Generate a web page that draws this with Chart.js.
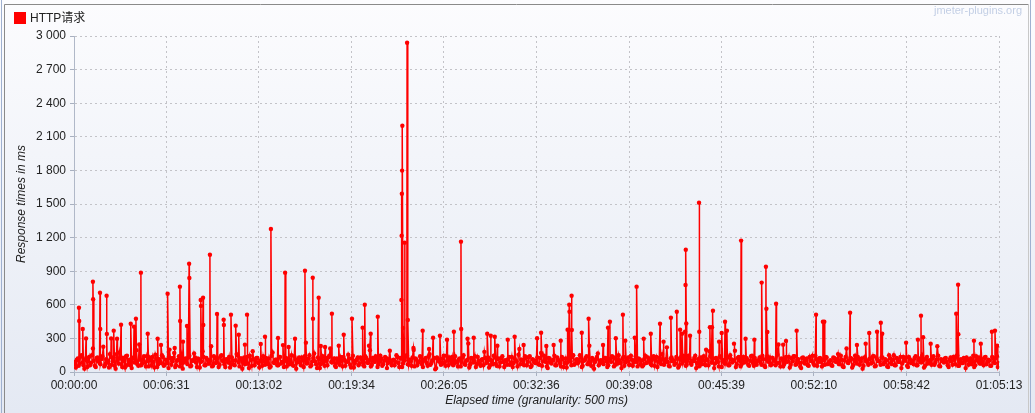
<!DOCTYPE html>
<html>
<head>
<meta charset="utf-8">
<script src="https://cdn.jsdelivr.net/npm/chart.js@4/dist/chart.umd.min.js"></script>
<style>
html,body{margin:0;padding:0;background:#eef1f8;}
#wrap{width:1035px;height:413px;position:relative;}
canvas{display:block;}
</style>
</head>
<body>
<div id="wrap"><canvas id="c" width="1035" height="413"></canvas></div>
<script>
// ---- data ----
const seriesName = 'HTTP请求';
const baseStepSec = 8;   // baseline samples read every 8 s
const baseOffsetSec = 4; // second baseline row sits halfway between
const baseMs = [
 90,40,120,75,150,60,110,45,135,80,210,55,125,95,70,140,50,115,85,160,
 65,130,30,100,175,70,125,40,145,90,60,120,85,195,55,110,75,140,50,100,
 130,60,90,155,45,115,80,135,65,105,35,125,95,170,60,110,50,140,85,120,
 70,145,55,100,130,45,115,90,185,60,125,75,105,50,140,80,120,65,150,95,
 45,110,135,70,100,60,160,85,120,30,130,95,75,145,55,115,90,125,40,105,
 140,65,95,120,50,175,80,110,60,135,90,45,125,100,70,150,55,115,85,130,
 60,105,140,75,120,50,95,165,70,130,35,110,85,125,60,145,90,100,55,120,
 80,135,50,110,95,155,65,120,40,100,130,75,115,60,140,85,105,50,125,90,
 115,70,145,55,100,125,80,190,60,110,90,135,45,120,75,105,150,65,95,130,
 50,115,85,140,70,100,125,55,160,80,110,25,130,95,65,120,85,145,60,105,
 135,75,95,50,120,90,150,65,110,40,125,85,140,70,100,55,115,180,80,130,
 60,100,145,75,115,50,125,90,105,65,135,80,45,120,95,155,70,110,60,125,
 90,140,55,105,80,130,65,170,95,115,50,125,85,100,145,60,110,75,135,45,
 120,85,100,60,150,75,115,95,130,55,105,140,70,90,125,30,110,165,80,100,
 70,125,45,115,90,135,60,105,150,80,120,55,95,130,65,110,85,140,50,115,
 100,60,145,85,110,70,125,55,135,95,80,160,65,115,90,50,130,105,75,120,
 55,135,90,110,65,145,80,100,125,35,115,95,70,140,60,105,185,85,120,75,
 110,50,130,95,75,120,60,150,85,105,45,125,100,70,135,90,115,55,140,80,
 125,65,105,85,145,55,115,95,130,70,100,60,155,80,120,50,110,90,135,65,
 95,140,70,115,50,125,85,105,60,135,100,75,145,55,120,90,110,65,130,80,
 105,55,125,90,160,70,110,45,135,85,100,120,60,145,75,115,95,30,130,100,
 65,120,85,140,55,105,95,130,70,115,50,150,80,110,60,125,90,135,75,105,
 130,45,115,100,70,140,60,120,85,105,55,135,95,75,125,65,110,145,50,100,
 85,125,60,110,95,135,70,150,55,115,80,105,130,65,120,90,45,140,100,75,
 115,60,135,90,105,55,125,80,140,70
];
const baseMs2 = [
 70,110,55,140,85,30,125,95,60,150,100,45,130,80,115,225,65,105,40,135,
 95,55,160,75,120,45,100,140,65,110,35,130,90,70,245,60,115,85,140,50,
 105,135,40,120,70,95,150,55,110,80,200,65,125,45,100,140,75,30,115,90,
 130,50,105,165,85,120,40,95,135,60,110,75,230,55,125,90,45,140,100,70,
 115,85,40,130,65,105,150,50,120,90,70,135,35,110,185,60,125,80,100,55,
 95,125,70,40,145,85,110,60,135,75,240,100,50,120,90,65,140,30,115,85,
 130,45,105,80,150,60,125,95,35,115,70,140,55,100,130,210,85,120,45,110,
 65,100,135,55,90,120,40,145,75,110,60,130,90,50,125,80,195,65,105,140,
 45,90,120,70,135,35,115,85,105,60,150,80,125,45,100,135,70,110,55,215,
 120,60,95,130,45,110,80,140,65,100,125,35,115,90,70,145,55,105,130,80,
 60,140,85,115,50,130,70,100,255,65,120,90,45,135,75,110,60,125,95,40,
 105,70,130,55,120,85,140,45,95,115,65,135,80,100,50,205,110,75,140,60,
 135,45,115,85,100,70,125,55,145,90,35,120,75,110,60,130,95,50,115,80,
 40,120,95,135,65,110,80,150,45,100,125,70,235,55,115,90,135,60,105,85,
 125,95,60,110,140,50,120,75,100,35,135,85,115,65,145,55,105,90,120,70,
 50,115,80,130,95,60,140,105,45,125,70,110,85,220,55,120,95,65,135,40,
 110,75,140,55,100,125,65,95,145,80,50,130,105,70,115,60,140,85,35,125,
 90,140,45,105,80,130,60,115,95,190,70,135,50,110,85,125,65,100,145,55,
 75,100,130,65,115,45,140,90,60,125,105,80,245,50,115,70,135,95,40,120,
 140,65,110,85,35,130,75,120,55,100,145,60,115,90,125,50,105,135,70,95,
 60,130,95,115,70,145,50,105,210,80,125,40,110,90,135,65,120,55,100,85,
 115,75,140,50,120,95,65,130,85,105,45,125,70,150,60,115,90,35,135,100,
 55,135,80,100,125,60,110,90,145,40,120,75,105,65,140,85,230,55,115,95,
 120,90,45,130,65,110,140,55,100,80,125,35,115,95,70,145,60,105,130,75,
 90,130,70,110,55,135,85,120,45,100
];
// spikes: elapsed second and response time (ms)
const peakSec = [21,22,37,51,80,81,110,111,138,139,157,168,182,199,240,254,262,283,312,354,368,396,426,448,449,461,478,487,488,
 536,537,546,547,575,605,633,634,664,684,697,723,732,790,808,833,863,893,908,935,977,981,1010,1011,1035,1044,1062,1091,1120,1141,1176,
 1221,1230,1248,1255,1285,1385,1386,1387,1388,1389,1392,1399,1409,1412,1437,1475,1502,1519,1548,1578,1607,1637,1638,1665,1691,
 1748,1763,1780,1791,1835,1864,1902,1959,1976,1998,2029,2059,2088,2095,2096,2105,2106,2148,2177,2238,2259,2267,2292,2322,2332,2372,2380,
 2410,2440,2479,2494,2525,2550,2564,2572,2585,2587,2588,2590,2606,2644,2645,2674,2690,2699,2703,2729,2740,2754,2762,2792,2822,2841,2878,
 2909,2927,2929,2933,2970,3000,3012,3057,3139,3168,3174,3283,3312,3349,3364,3397,3413,3419,3520,3570,3583,3592,3624,3732,3740,3741,
 3807,3836,3883,3896,3905,3913];
const peakMs = [574,455,384,300,806,650,708,384,681,340,300,369,297,422,431,405,476,887,342,297,241,699,214,762,455,271,411,967,839,
 643,590,664,420,1047,518,467,420,512,414,333,244,512,250,315,1277,304,887,223,297,904,262,842,476,664,232,223,521,235,333,476,
 396,601,235,342,494,643,1217,1592,1798,2199,393,1155,2940,464,196,369,205,306,324,289,360,1164,384,297,306,
 342,324,315,235,289,315,241,301,351,232,241,280,378,601,538,681,375,351,476,241,396,449,301,512,280,306,762,
 297,342,431,271,485,538,378,342,360,777,1092,434,324,1512,360,199,399,399,547,271,348,449,369,253,1173,297,289,
 798,940,565,357,610,244,277,369,512,449,449,530,241,253,348,360,440,342,262,289,503,310,253,521,780,337,
 280,253,360,369,235,80];
const xTickSec = [0,391,782,1174,1565,1956,2348,2739,3130,3522,3913];
const xTickLabels = ['00:00:00','00:06:31','00:13:02','00:19:34','00:26:05','00:32:36','00:39:08','00:45:39','00:52:10','00:58:42','01:05:13'];
const yTickValues = [0,300,600,900,1200,1500,1800,2100,2400,2700,3000];
const yTickLabels = ['0','300','600','900','1 200','1 500','1 800','2 100','2 400','2 700','3 000'];

// ---- build point table ----
const points = [];
baseMs.forEach((v, i) => points.push({x: i * baseStepSec, y: v}));
baseMs2.forEach((v, i) => points.push({x: i * baseStepSec + baseOffsetSec, y: v}));
peakSec.forEach((s, i) => points.push({x: s, y: peakMs[i]}));
points.sort((a, b) => a.x - b.x);

const FONT = '"Liberation Sans", Arial, "Noto Sans CJK SC", sans-serif';
Chart.defaults.font.family = FONT;
Chart.defaults.font.size = 12;
Chart.defaults.color = '#222';

const bgPlugin = {
  id: 'bg',
  beforeDraw(chart) {
    const ctx = chart.ctx;
    const g = ctx.createLinearGradient(0, 0, 0, chart.height);
    g.addColorStop(0, '#fcfcfe');
    g.addColorStop(1, '#e4e9f3');
    ctx.save();
    ctx.fillStyle = g;
    ctx.fillRect(0, 0, chart.width, chart.height);
    ctx.restore();
  },
  afterDraw(chart) {
    const ctx = chart.ctx;
    ctx.save();
    ctx.lineWidth = 1;
    ctx.strokeStyle = '#8a8a8a';
    ctx.beginPath();
    ctx.moveTo(4.5, chart.height);
    ctx.lineTo(4.5, 4.5);
    ctx.lineTo(1028.5, 4.5);
    ctx.stroke();
    ctx.strokeStyle = '#c8c8c8';
    ctx.beginPath();
    ctx.moveTo(1028.5, 5); ctx.lineTo(1028.5, chart.height);
    ctx.stroke();
    ctx.strokeStyle = '#9fb0d0';
    ctx.beginPath();
    ctx.moveTo(1.5, 0); ctx.lineTo(1.5, chart.height);
    ctx.moveTo(1030.5, 0); ctx.lineTo(1030.5, chart.height);
    ctx.stroke();
    // legend
    ctx.fillStyle = '#ff0000';
    ctx.fillRect(14, 12, 12, 12);
    ctx.fillStyle = '#222';
    ctx.font = '12px ' + FONT;
    ctx.textBaseline = 'alphabetic';
    ctx.textAlign = 'left';
    ctx.fillText(seriesName, 30, 22);
    // watermark
    ctx.fillStyle = '#c3cfe5';
    ctx.font = '11px ' + FONT;
    ctx.textAlign = 'right';
    ctx.fillText('jmeter-plugins.org', 1022, 14);
    ctx.restore();
  }
};

new Chart(document.getElementById('c'), {
  type: 'line',
  data: {
    datasets: [{
      label: seriesName,
      data: points,
      borderColor: '#ff0000',
      backgroundColor: '#ff0000',
      borderWidth: 1.5,
      pointRadius: 2.2,
      pointBorderWidth: 0,
      pointHoverRadius: 0,
      tension: 0,
      fill: false
    }]
  },
  options: {
    responsive: false,
    animation: false,
    devicePixelRatio: 1,
    events: [],
    layout: {padding: {left: 0, top: 36, right: 36, bottom: 0}},
    plugins: {legend: {display: false}, tooltip: {enabled: false}},
    scales: {
      x: {
        type: 'linear',
        min: 0, max: 3913,
        afterBuildTicks(s) { s.ticks = xTickSec.map(v => ({value: v})); },
        afterFit(s) { s.height = 41; },
        ticks: {
          padding: 2, maxRotation: 0, autoSkip: false, color: '#222',
          callback: (v, i) => xTickLabels[i]
        },
        grid: {color: '#c3c3c8', tickLength: 4, tickColor: '#a8b0c0', tickBorderDash: []},
        border: {color: '#b0b8c8', width: 1, dash: [2, 3]},
        title: {display: true, text: 'Elapsed time (granularity: 500 ms)', font: {style: 'italic', size: 12}, color: '#222', padding: {top: 0, bottom: 5}}
      },
      y: {
        min: 0, max: 3000,
        afterBuildTicks(s) { s.ticks = yTickValues.map(v => ({value: v})); },
        afterFit(s) { s.width = 74; },
        ticks: {
          padding: 4, color: '#222',
          callback: (v, i) => yTickLabels[i]
        },
        grid: {color: '#c3c3c8', tickLength: 4, tickColor: '#a8b0c0', tickBorderDash: []},
        border: {color: '#b0b8c8', width: 1, dash: [2, 3]},
        title: {display: true, text: 'Response times in ms', font: {style: 'italic', size: 12}, color: '#222', padding: {top: 14, bottom: 0}}
      }
    }
  },
  plugins: [bgPlugin]
});
</script>
</body>
</html>
